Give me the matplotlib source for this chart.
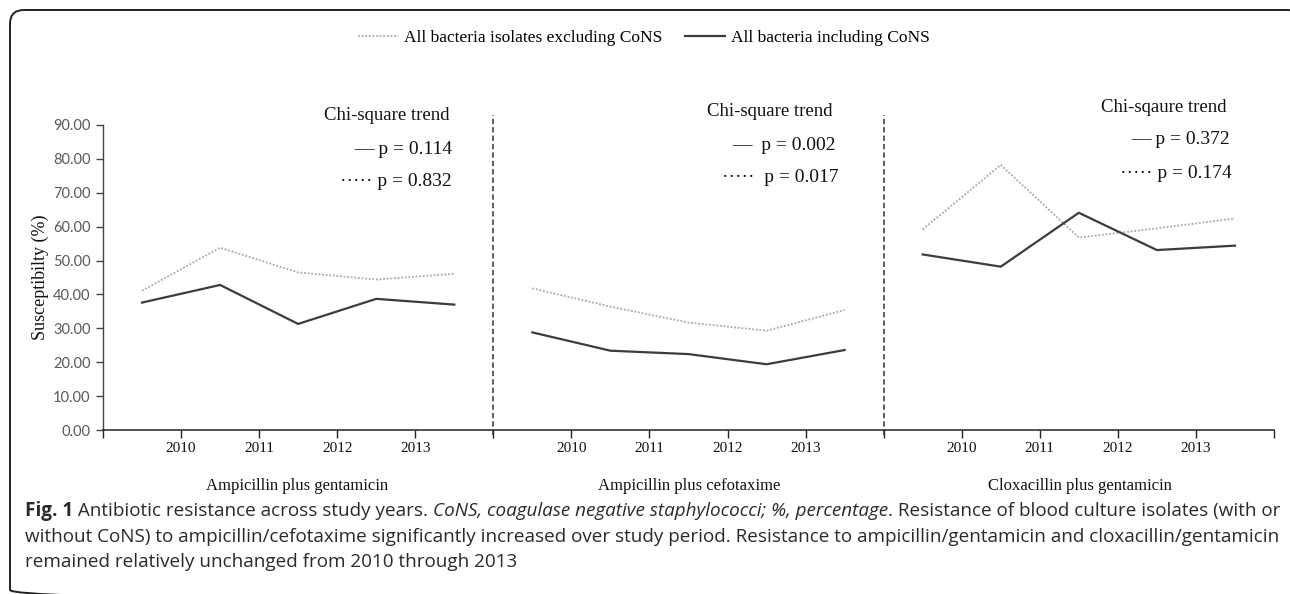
import matplotlib
matplotlib.use("Agg")
import matplotlib.pyplot as plt
from matplotlib.patches import FancyBboxPatch
from matplotlib.lines import Line2D
from matplotlib import font_manager

# ---------------- data ----------------
year_labels = ["2010", "2011", "2012", "2013"]
panel_titles = ["Ampicillin plus gentamicin", "Ampicillin plus cefotaxime", "Cloxacillin plus gentamicin"]
excl_amp_gen = [41.1, 53.8, 46.5, 44.4, 46.1]
incl_amp_gen = [37.6, 42.8, 31.3, 38.7, 37.0]
excl_amp_cef = [41.8, 36.4, 31.7, 29.3, 35.4]
incl_amp_cef = [28.8, 23.4, 22.4, 19.4, 23.6]
excl_clox_gen = [59.2, 78.2, 56.8, 59.5, 62.4]
incl_clox_gen = [51.8, 48.2, 64.1, 53.1, 54.4]
chi_titles = ["Chi-square trend", "Chi-square trend", "Chi-sqaure trend"]
p_solid = ["0.114", "0.002", "0.372"]
p_dotted = ["0.832", "0.017", "0.174"]
y_ticks = [0, 10, 20, 30, 40, 50, 60, 70, 80, 90]
legend_labels = ["All bacteria isolates excluding CoNS", "All bacteria including CoNS"]

excl = [excl_amp_gen, excl_amp_cef, excl_clox_gen]
incl = [incl_amp_gen, incl_amp_cef, incl_clox_gen]

# ---------------- fonts ----------------
names = {f.name for f in font_manager.fontManager.ttflist}
SERIF = "Liberation Serif"
TICKF = "Lato" if "Lato" in names else "DejaVu Sans"
CAPF = "Liberation Sans Narrow" if "Liberation Sans Narrow" in names else "Open Sans"

W, H = 1290, 594
fig = plt.figure(figsize=(W / 100, H / 100), dpi=100)

def fx(px):
    return px / W

def fy(py):
    return 1 - py / H

x0, x1, ytop, ybot = 103, 1274, 125, 430
ax = fig.add_axes([fx(x0), fy(ybot), fx(x1) - fx(x0), fy(ytop) - fy(ybot)])
ax.patch.set_visible(False)

SOLID_C = "#3c3c3c"
DOT_C = "#a8a8a8"
n_per = len(year_labels) + 1
for i in range(3):
    xs = [i * n_per + k for k in range(n_per)]
    ax.plot(xs, excl[i], color=DOT_C, lw=1.3, linestyle=(0, (1, 1)))
    ax.plot(xs, incl[i], color=SOLID_C, lw=1.6)

total = 3 * n_per
ax.set_xlim(-0.5, total - 0.5)
ax.set_ylim(0, 90)
ax.set_yticks(y_ticks)
ax.set_yticklabels([f"{v:.2f}" for v in y_ticks], fontfamily=TICKF, fontsize=10.5, color="#595959")

bounds = [b - 0.5 for b in range(total + 1)]
labels = []
for b in range(total + 1):
    k = b % n_per
    if 1 <= k <= len(year_labels) and b < total:
        labels.append(year_labels[k - 1])
    else:
        labels.append("")
ax.set_xticks(bounds)
ax.set_xticklabels(labels, fontfamily=SERIF, fontsize=11, color="#111111")
ax.tick_params(axis="x", length=6, width=1, direction="out", pad=3, color="#222222")
ax.tick_params(axis="y", length=5, width=1, direction="out", pad=4, color="#444444")
for s in ["top", "right"]:
    ax.spines[s].set_visible(False)
ax.spines["bottom"].set_color("#222222")
ax.spines["left"].set_color("#444444")
ax.spines["bottom"].set_linewidth(1.1)
ax.spines["left"].set_linewidth(1.0)

ax.set_ylabel("Susceptibilty (%)", fontfamily=SERIF, fontsize=13, color="#111111", labelpad=3)

# dashed separators
for b in [n_per - 0.5, 2 * n_per - 0.5]:
    ax.plot([b, b], [-1.5, 93.0], color="#333333", lw=1.1, linestyle=(0, (3.5, 2)), clip_on=False)

# ---------------- overlay (pixel coords) ----------------
ov = fig.add_axes([0, 0, 1, 1])
ov.set_xlim(0, W)
ov.set_ylim(H, 0)
ov.axis("off")

frame = FancyBboxPatch((10, 10), 1292, 594, boxstyle="round,pad=0,rounding_size=14",
                       fill=False, edgecolor="#222222", lw=1.4, clip_on=True)
ov.add_patch(frame)

# legend
handles = [Line2D([], [], color=DOT_C, lw=1.3, linestyle=(0, (1, 1))),
           Line2D([], [], color=SOLID_C, lw=1.6)]
fig.legend(handles, legend_labels, loc="center", bbox_to_anchor=(fx(644), fy(38)), ncol=2,
           frameon=False, handlelength=2.3, handletextpad=0.35, columnspacing=1.3,
           prop={"family": SERIF, "size": 12.5})

# panel titles
panel_cx = [297, 689, 1080]
for cx, t in zip(panel_cx, panel_titles):
    ov.text(cx, 486, t, ha="center", va="center", fontfamily=SERIF, fontsize=12, color="#111111")

# chi-square annotations
chi_pos = [(387, 115), (770, 111), (1164, 107)]
p_right = [(452, 150, 452, 182), (836, 145, 839, 178), (1230, 140, 1232, 173)]
for i in range(3):
    cx, cy = chi_pos[i]
    ov.text(cx, cy, chi_titles[i], ha="center", va="center", fontfamily=SERIF, fontsize=13.5, color="#111111")
    r1, y1, r2, y2 = p_right[i]
    gap = "  " if i == 1 else " "
    ov.text(r1, y1, "\u2014" + gap + "p = " + p_solid[i], ha="right", va="center",
            fontfamily=SERIF, fontsize=14, color="#111111")
    ov.text(r2, y2, "\u00b7\u00b7\u00b7\u00b7\u00b7" + gap + "p = " + p_dotted[i], ha="right", va="center",
            fontfamily=SERIF, fontsize=14, color="#111111")

# caption
renderer = fig.canvas.get_renderer()
CAP_SIZE = 13.6
CAP_C = "#2a2a2a"

def rich(x, y, parts):
    for txt, kw in parts:
        t = ov.text(x, y, txt, va="baseline", ha="left", fontfamily=CAPF, fontsize=CAP_SIZE, color=CAP_C, **kw)
        bb = t.get_window_extent(renderer)
        x += bb.width

rich(25, 516, [("Fig. 1", {"fontweight": "bold"}),
               (" Antibiotic resistance across study years. ", {}),
               ("CoNS, coagulase negative staphylococci; %, percentage", {"fontstyle": "italic"}),
               (". Resistance of blood culture isolates (with or", {})])
rich(25, 542, [("without CoNS) to ampicillin/cefotaxime significantly increased over study period. "
                "Resistance to ampicillin/gentamicin and cloxacillin/gentamicin", {})])
rich(25, 567, [("remained relatively unchanged from 2010 through 2013", {})])

fig.savefig("out.png", dpi=100)
